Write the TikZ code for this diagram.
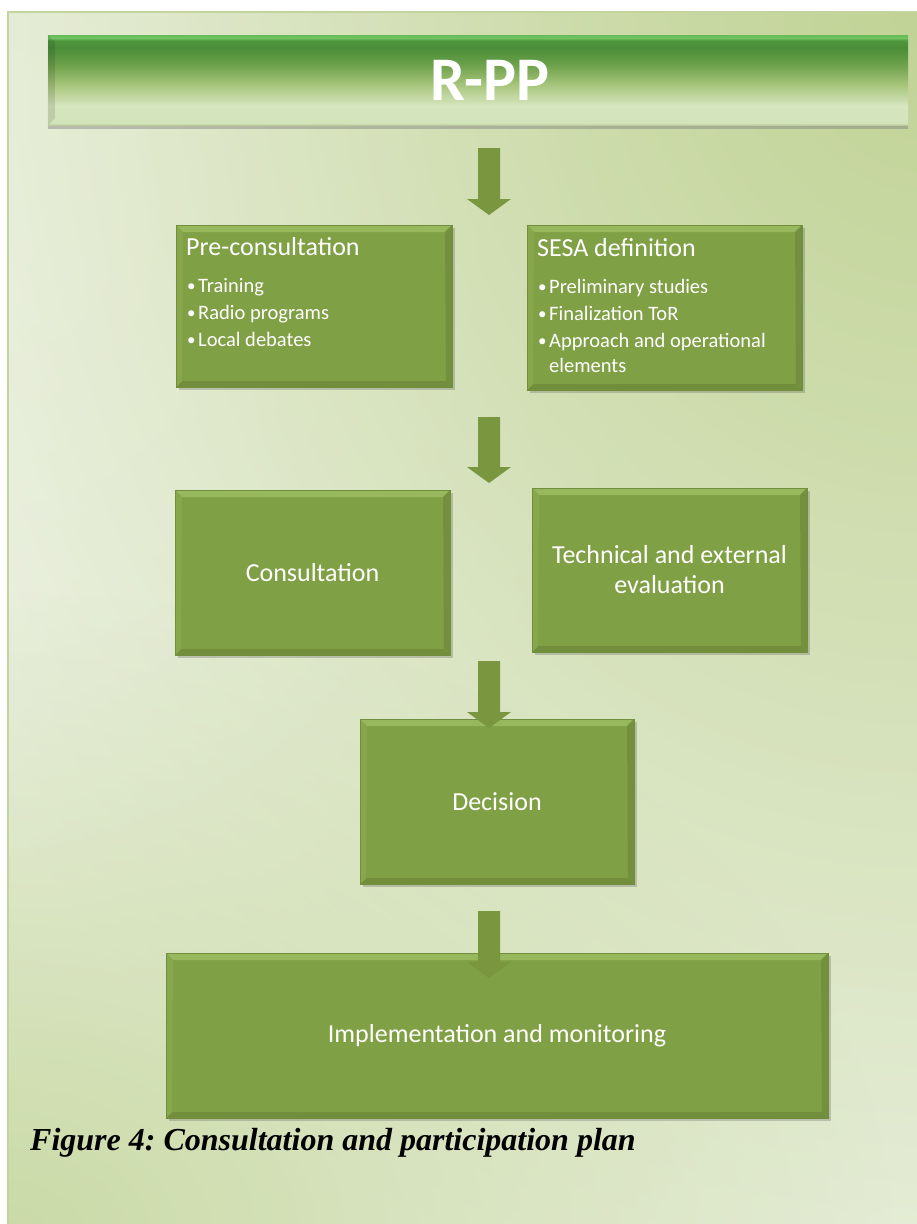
\documentclass[tikz,border=0pt]{standalone}
\usepackage{fontspec}
\setmainfont{Liberation Serif}
\newfontfamily\boxfont{Carlito}
\usetikzlibrary{shadows,fadings}

\definecolor{boxgreen}{HTML}{80A045}
\definecolor{boxedge}{HTML}{718E3C}
\definecolor{arrowgreen}{HTML}{7A963F}
\definecolor{bevtop}{HTML}{98B85D}
\definecolor{bevleft}{HTML}{88A74C}
\definecolor{bevright}{HTML}{74903E}
\definecolor{bevbottom}{HTML}{728E3D}
\definecolor{bgbase}{HTML}{E8EFDC}
\definecolor{bglight}{HTML}{F1F5EA}
\definecolor{bgcorner}{HTML}{C1D395}
\definecolor{bgfoot}{HTML}{CADAA6}
\definecolor{frameline}{HTML}{C4D49E}
% title bar colour stops, bottom to top
\definecolor{tbA}{HTML}{BCCC9E}
\definecolor{tbB}{HTML}{D3E3BA}
\definecolor{tbC}{HTML}{D5E5BD}
\definecolor{tbD}{HTML}{A9C67D}
\definecolor{tbE}{HTML}{6FA24C}
\definecolor{tbF}{HTML}{4A8D38}
\definecolor{tbG}{HTML}{51973E}
\definecolor{tbH}{HTML}{72C463}
\definecolor{tbI}{HTML}{66BA57}

\pgfdeclareverticalshading{titlebarshade}{100bp}{
  color(0bp)=(tbA); color(25bp)=(tbA); color(26.1bp)=(tbB);
  color(36bp)=(tbC); color(47bp)=(tbD); color(58bp)=(tbE);
  color(68bp)=(tbF); color(72bp)=(tbG); color(73.3bp)=(tbH);
  color(75bp)=(tbI); color(100bp)=(tbI)}

\tikzfading[name=softspot, inner color=transparent!0, outer color=transparent!100]

\tikzset{
  bevel/.style={path picture={
    \path (path picture bounding box.north west) coordinate (bnw)
          (path picture bounding box.north east) coordinate (bne)
          (path picture bounding box.south west) coordinate (bsw)
          (path picture bounding box.south east) coordinate (bse);
    \fill[bevtop] (bnw) -- (bne) -- ([shift={(-7pt,-7pt)}]bne) -- ([shift={(7pt,-7pt)}]bnw) -- cycle;
    \fill[bevbottom] (bsw) -- (bse) -- ([shift={(-6pt,6pt)}]bse) -- ([shift={(6pt,6pt)}]bsw) -- cycle;
    \fill[bevleft] (bnw) -- ([shift={(7pt,-7pt)}]bnw) -- ([shift={(6pt,6pt)}]bsw) -- (bsw) -- cycle;
    \fill[bevright] (bne) -- ([shift={(-7pt,-7pt)}]bne) -- ([shift={(-6pt,6pt)}]bse) -- (bse) -- cycle;
  }},
  stagebox/.style={fill=boxgreen, draw=boxedge, line width=0.6pt, bevel,
    inner sep=0pt, text=white, align=center,
    font=\boxfont\fontsize{26}{30}\selectfont,
    drop shadow={shadow xshift=2.5pt, shadow yshift=-3pt, opacity=.22, fill=black!80}},
  boxhead/.style={anchor=base west, inner sep=0pt, text=white,
    font=\boxfont\fontsize{26}{30}\selectfont},
  boxitem/.style={anchor=base west, inner sep=0pt, text=white,
    font=\boxfont\fontsize{20.5}{25}\selectfont},
  titlebar/.style={shade, shading=titlebarshade, inner sep=0pt,
    drop shadow={shadow xshift=0pt, shadow yshift=-4pt, opacity=.4, fill=black!55}},
}

% block arrow from the shaft top #1 to the tip #2
\newcommand\blockarrow[2]{%
  \fill[arrowgreen] ([xshift=-11pt]#1) -- ([xshift=11pt]#1)
    -- ([xshift=11pt,yshift=16pt]#2) -- ([xshift=22pt,yshift=16pt]#2)
    -- (#2) -- ([xshift=-22pt,yshift=16pt]#2)
    -- ([xshift=-11pt,yshift=16pt]#2) -- cycle;}

% small list bullet
\newcommand\bul{\makebox[11pt][l]{\fontsize{17}{17}\selectfont\raisebox{1pt}{•}}}

\begin{document}
\begin{tikzpicture}[x=1pt,y=-1pt]
  \useasboundingbox (0,0) rectangle (916,1224);

  % page background with soft green corners
  \fill[white] (0,0) rectangle (916,1224);
  \begin{scope}
    \clip (8,12) rectangle (930,1240);
    \fill[bgbase] (8,12) rectangle (930,1240);
    \fill[bglight, path fading=softspot, fit fading=true] (8,200) ellipse [x radius=700, y radius=900];
    \fill[bgcorner, path fading=softspot, fit fading=true] (930,0) ellipse [x radius=1150, y radius=1350];
    \fill[bgfoot, path fading=softspot, fit fading=true] (0,1240) ellipse [x radius=900, y radius=650];
  \end{scope}
  \draw[frameline, line width=2pt] (930,12) -- (8,12) -- (8,1240);

  % title bar
  \node[titlebar, minimum width=860pt, minimum height=90pt] (title) at (478,80) {};
  \fill[black, opacity=.10] (title.north west) -- ([xshift=7pt,yshift=-7pt]title.north west)
       -- ([xshift=7pt,yshift=7pt]title.south west) -- (title.south west) -- cycle;
  \node[text=white, font=\boxfont\bfseries\fontsize{62}{70}\selectfont, inner sep=0pt]
       (rpp) at ([xshift=12pt]title.center) {R-PP};

  % stage boxes
  \node[stagebox, minimum width=276pt, minimum height=162pt] (pre)  at (314,306) {};
  \node[stagebox, minimum width=275pt, minimum height=165pt] (sesa) at (664.5,307.5) {};
  \node[stagebox, minimum width=275pt, minimum height=165pt] (cons) at (312.5,572.5) {Consultation};
  \node[stagebox, minimum width=275pt, minimum height=164pt] (tech) at (669.5,570) {Technical and external\\evaluation};
  \node[stagebox, minimum width=274pt, minimum height=165pt] (dec)  at (497,801.5) {Decision};
  \node[stagebox, minimum width=662pt, minimum height=165pt] (impl) at (497,1035.5) {Implementation and monitoring};

  % box contents
  \node[boxhead] (preh) at (186,255) {Pre-consultation};
  \node[boxitem] (pre1) at (187,292) {\bul Training};
  \node[boxitem] (pre2) at (187,319) {\bul Radio programs};
  \node[boxitem] (pre3) at (187,346) {\bul Local debates};

  \node[boxhead] (sesah) at (537,256) {SESA definition};
  \node[boxitem] (sesa1) at (538,293) {\bul Preliminary studies};
  \node[boxitem] (sesa2) at (538,320) {\bul Finalization ToR};
  \node[boxitem] (sesa3) at (538,347) {\bul Approach and operational};
  \node[boxitem] (sesa4) at (538,372) {\hspace*{11pt}elements};

  % flow arrows
  \coordinate (a1s) at (489,148); \coordinate (a1e) at (489,215);
  \coordinate (a2s) at (489,417); \coordinate (a2e) at (489,483);
  \coordinate (a3s) at (489,661); \coordinate (a3e) at (489,728);
  \coordinate (a4s) at (489,911); \coordinate (a4e) at (489,978);
  \blockarrow{a1s}{a1e}
  \blockarrow{a2s}{a2e}
  \blockarrow{a3s}{a3e}
  \blockarrow{a4s}{a4e}

  % caption
  \node[anchor=base west, inner sep=0pt, font=\frenchspacing\bfseries\itshape\fontsize{32}{36}\selectfont]
       (caption) at (30,1150) {Figure 4: Consultation and participation plan};
\end{tikzpicture}
\end{document}
